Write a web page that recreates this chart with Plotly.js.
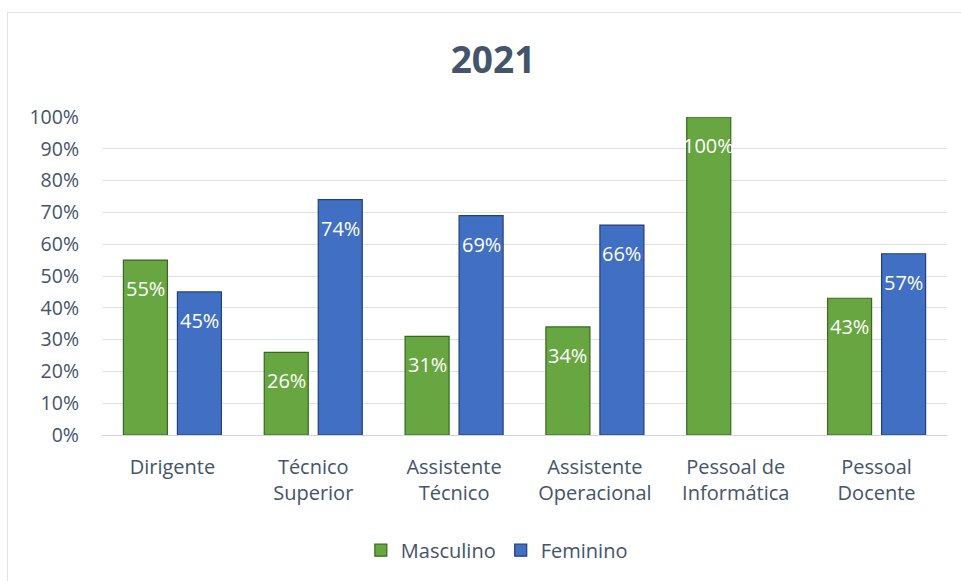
<!DOCTYPE html>
<html>
<head>
<meta charset="utf-8">
<script src="https://cdn.plot.ly/plotly-3.0.1.min.js"></script>
<style>
  html, body { margin: 0; padding: 0; background: #ffffff; }
  #wrap { position: relative; width: 961px; height: 581px; overflow: hidden; }
  #chart { width: 961px; height: 581px; }
  #frame { position: absolute; left: 7px; top: 12px; width: 1000px; height: 700px;
           border: 1px solid #dfe3e8; pointer-events: none; box-sizing: border-box; }
</style>
</head>
<body>
<div id="wrap">
  <div id="chart"></div>
  <div id="frame"></div>
</div>
<script>
const categories = ["Dirigente", "Técnico Superior", "Assistente Técnico",
                    "Assistente Operacional", "Pessoal de Informática", "Pessoal Docente"];
const tickLabels = ["Dirigente", "Técnico<br>Superior", "Assistente<br>Técnico",
                    "Assistente<br>Operacional", "Pessoal de<br>Informática", "Pessoal<br>Docente"];
const masculino = [0.55, 0.26, 0.31, 0.34, 1.00, 0.43];
const feminino  = [0.45, 0.74, 0.69, 0.66, 0.00, 0.57];
const seriesNames = ["Masculino", "Feminino"];
const titleText = "2021";

const FONT = "'Open Sans', 'Noto Sans', sans-serif";
const TXT = "#44546a";

const traces = [
  {
    type: "bar", name: seriesNames[0], x: categories, y: masculino,
    marker: { color: "#67a640", line: { color: "#3a6823", width: masculino.map(v => v > 0 ? 1.2 : 0) } },
    hoverinfo: "skip"
  },
  {
    type: "bar", name: seriesNames[1], x: categories, y: feminino,
    marker: { color: "#406fc3", line: { color: "#22407a", width: feminino.map(v => v > 0 ? 1.2 : 0) } },
    hoverinfo: "skip"
  }
];

const annotations = [];
const series = [masculino, feminino];
series.forEach((vals, s) => {
  vals.forEach((v, i) => {
    if (v <= 0) return;
    annotations.push({
      x: categories[i], y: v, xref: "x", yref: "y",
      xshift: s === 0 ? -27 : 27, yshift: -13,
      yanchor: "top", xanchor: "center", showarrow: false,
      text: Math.round(v * 100) + "%",
      font: { family: FONT, size: 20, color: "#ffffff" }
    });
  });
});

const layout = {
  width: 961, height: 581,
  paper_bgcolor: "rgba(0,0,0,0)", plot_bgcolor: "rgba(0,0,0,0)",
  margin: { l: 102, r: 14, t: 117, b: 146 },
  font: { family: FONT, color: TXT, size: 19 },
  title: {
    text: "<b>" + titleText + "</b>",
    font: { family: FONT, size: 37, color: TXT },
    x: 0.513, xref: "container", xanchor: "center",
    y: 0.897, yref: "container", yanchor: "middle"
  },
  barmode: "group", bargap: 0.233, bargroupgap: 0.185,
  xaxis: {
    type: "category", tickvals: categories, ticktext: tickLabels,
    showgrid: false, showline: true, linecolor: "#d0d5dc", linewidth: 1,
    ticks: "", ticklabelstandoff: 14,
    tickfont: { family: FONT, size: 20, color: TXT }
  },
  yaxis: {
    range: [0, 1], dtick: 0.1, tickformat: ".0%",
    showgrid: true, gridcolor: "#dde2e8", gridwidth: 1,
    zeroline: false, showline: false, ticks: "", ticklabelstandoff: 22,
    tickfont: { family: FONT, size: 19.5, color: TXT }
  },
  showlegend: true,
  legend: {
    orientation: "h", xref: "container", yref: "container",
    x: 0.517, xanchor: "center", y: 0.053, yanchor: "middle",
    font: { family: FONT, size: 20, color: TXT }, itemwidth: 30
  },
  annotations: annotations
};

Plotly.newPlot("chart", traces, layout, { displayModeBar: false, staticPlot: true });
</script>
</body>
</html>
